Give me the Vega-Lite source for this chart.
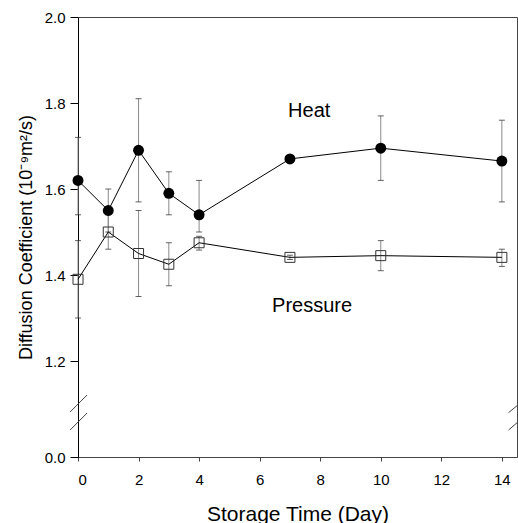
{
  "$schema": "https://vega.github.io/schema/vega-lite/v6.json",
  "width": 439,
  "height": 440,
  "autosize": {"type": "none"},
  "padding": {"left": 78, "top": 17, "right": 1, "bottom": 66},
  "background": "white",
  "config": {
    "view": {"stroke": "#444", "strokeWidth": 1},
    "font": "Liberation Sans"
  },
  "datasets": {
    "obs": [
      {"series": "Heat", "day": 0, "value": 1.62, "lo": 1.54, "hi": 1.72},
      {"series": "Heat", "day": 1, "value": 1.55, "lo": 1.50, "hi": 1.60},
      {"series": "Heat", "day": 2, "value": 1.69, "lo": 1.57, "hi": 1.81},
      {"series": "Heat", "day": 3, "value": 1.59, "lo": 1.54, "hi": 1.64},
      {"series": "Heat", "day": 4, "value": 1.54, "lo": 1.50, "hi": 1.62},
      {"series": "Heat", "day": 7, "value": 1.67, "lo": 1.665, "hi": 1.675},
      {"series": "Heat", "day": 10, "value": 1.695, "lo": 1.62, "hi": 1.77},
      {"series": "Heat", "day": 14, "value": 1.665, "lo": 1.57, "hi": 1.76},
      {"series": "Pressure", "day": 0, "value": 1.39, "lo": 1.30, "hi": 1.48},
      {"series": "Pressure", "day": 1, "value": 1.50, "lo": 1.46, "hi": 1.54},
      {"series": "Pressure", "day": 2, "value": 1.45, "lo": 1.35, "hi": 1.55},
      {"series": "Pressure", "day": 3, "value": 1.425, "lo": 1.375, "hi": 1.475},
      {"series": "Pressure", "day": 4, "value": 1.475, "lo": 1.458, "hi": 1.49},
      {"series": "Pressure", "day": 7, "value": 1.441, "lo": 1.436, "hi": 1.446},
      {"series": "Pressure", "day": 10, "value": 1.445, "lo": 1.41, "hi": 1.48},
      {"series": "Pressure", "day": 14, "value": 1.441, "lo": 1.42, "hi": 1.46}
    ],
    "labels": [
      {"label": "Heat", "day": 6.94, "value": 1.768},
      {"label": "Pressure", "day": 6.41, "value": 1.314}
    ],
    "breaks": [
      {"x": -0.26, "y": 0.934, "x2": 0.30, "y2": 1.121},
      {"x": -0.26, "y": 0.56, "x2": 0.30, "y2": 0.913},
      {"x": 14.22, "y": 0.92, "x2": 14.53, "y2": 1.079},
      {"x": 14.22, "y": 0.56, "x2": 14.53, "y2": 0.726}
    ]
  },
  "layer": [
    {
      "data": {"name": "obs"},
      "mark": {"type": "rule", "color": "#8a8a8a", "strokeWidth": 1},
      "encoding": {
        "x": {
          "field": "day", "type": "quantitative",
          "scale": {"domain": [0, 14.5], "nice": false, "zero": false},
          "axis": {
            "title": "Storage Time (Day)",
            "values": [0, 2, 4, 6, 8, 10, 12, 14],
            "format": "d",
            "grid": false,
            "domainColor": "#444",
            "tickColor": "#444",
            "tickSize": 4,
            "labelPadding": 11,
            "labelFontSize": 15,
            "labelColor": "black",
            "labelFont": "Liberation Sans",
            "titleFont": "Liberation Sans",
            "titleFontSize": 21,
            "titleFontWeight": "normal",
            "titleColor": "black",
            "titleBaseline": "alphabetic",
            "titleY": 63
          }
        },
        "y": {
          "field": "lo", "type": "quantitative",
          "scale": {"type": "linear", "domain": [0, 1.1, 2.0], "range": [440, 387, 0], "nice": false, "zero": false},
          "axis": {
            "title": "Diffusion Coefficient (10⁻⁹m²/s)",
            "values": [0, 1.2, 1.4, 1.6, 1.8, 2.0],
            "format": ".1f",
            "grid": false,
            "domainColor": "black",
            "tickColor": "black",
            "tickSize": 8,
            "labelPadding": 5,
            "labelFontSize": 15,
            "labelColor": "black",
            "labelFont": "Liberation Sans",
            "titleFont": "Liberation Sans",
            "titleFontSize": 18,
            "titleFontWeight": "normal",
            "titleColor": "black",
            "titleBaseline": "alphabetic",
            "titleX": -47,
            "titleY": 220
          }
        },
        "y2": {"field": "hi"}
      }
    },
    {
      "data": {"name": "obs"},
      "mark": {"type": "tick", "orient": "horizontal", "color": "#222", "size": 6, "thickness": 1},
      "encoding": {
        "x": {"field": "day", "type": "quantitative"},
        "y": {"field": "lo", "type": "quantitative"}
      }
    },
    {
      "data": {"name": "obs"},
      "mark": {"type": "tick", "orient": "horizontal", "color": "#222", "size": 6, "thickness": 1},
      "encoding": {
        "x": {"field": "day", "type": "quantitative"},
        "y": {"field": "hi", "type": "quantitative"}
      }
    },
    {
      "data": {"name": "obs"},
      "mark": {"type": "line", "color": "black", "strokeWidth": 1},
      "encoding": {
        "x": {"field": "day", "type": "quantitative"},
        "y": {"field": "value", "type": "quantitative"},
        "detail": {"field": "series"}
      }
    },
    {
      "data": {"name": "obs"},
      "transform": [{"filter": "datum.series === 'Heat'"}],
      "mark": {"type": "point", "shape": "circle", "filled": true, "color": "black", "size": 120, "opacity": 1},
      "encoding": {
        "x": {"field": "day", "type": "quantitative"},
        "y": {"field": "value", "type": "quantitative"}
      }
    },
    {
      "data": {"name": "obs"},
      "transform": [{"filter": "datum.series === 'Pressure'"}],
      "mark": {"type": "point", "shape": "square", "filled": false, "stroke": "#333", "strokeWidth": 1, "size": 100, "opacity": 1},
      "encoding": {
        "x": {"field": "day", "type": "quantitative"},
        "y": {"field": "value", "type": "quantitative"}
      }
    },
    {
      "data": {"name": "labels"},
      "mark": {"type": "text", "align": "left", "baseline": "alphabetic", "fontSize": 20, "font": "Liberation Sans", "color": "black"},
      "encoding": {
        "x": {"field": "day", "type": "quantitative"},
        "y": {"field": "value", "type": "quantitative"},
        "text": {"field": "label"}
      }
    },
    {
      "data": {"name": "breaks"},
      "mark": {"type": "rule", "color": "#444", "strokeWidth": 1},
      "encoding": {
        "x": {"field": "x", "type": "quantitative"},
        "x2": {"field": "x2"},
        "y": {"field": "y", "type": "quantitative"},
        "y2": {"field": "y2"}
      }
    }
  ]
}
